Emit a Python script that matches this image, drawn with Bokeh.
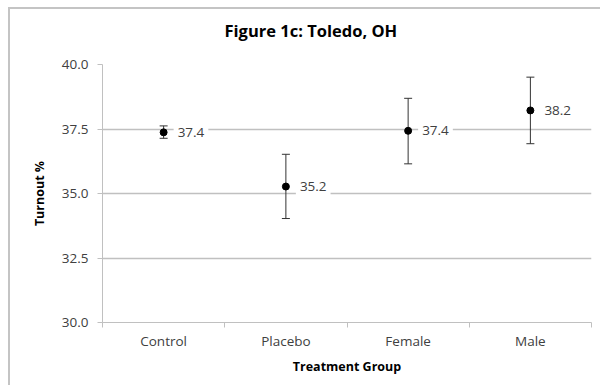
from bokeh.plotting import figure
from bokeh.models import (ColumnDataSource, FixedTicker, Whisker, TeeHead, Title)
from bokeh.core.properties import value
from bokeh.embed import file_html
from bokeh.resources import INLINE

groups = ["Control", "Placebo", "Female", "Male"]
turnout = [37.37, 35.27, 37.43, 38.22]
lower = [37.14, 34.03, 36.15, 36.93]
upper = [37.62, 36.52, 38.69, 39.51]
value_labels = ["37.4", "35.2", "37.4", "38.2"]
y_ticks = [30.0, 32.5, 35.0, 37.5, 40.0]
title_text = "Figure 1c: Toledo, OH"

FONT = "Open Sans"
TXT = "#404040"
GRID = "#c0c0c0"

xpos = [i + 0.5 for i in range(len(groups))]
src = ColumnDataSource(dict(x=xpos, y=turnout, lo=lower, hi=upper, lab=value_labels))

p = figure(width=592, height=378, x_range=(0, len(groups)), y_range=(30, 40),
           output_backend="svg", toolbar_location=None, tools="")
p.styles = {"margin-left": "8px", "margin-top": "7px",
            "border-left": "2px solid #c4c4c4", "border-top": "2px solid #c4c4c4"}
p.min_border_left = 92
p.min_border_right = 11
p.min_border_top = 54
p.min_border_bottom = 65
p.outline_line_color = None
p.background_fill_color = "white"
p.border_fill_color = "white"

# spacer between frame and title, then the title itself
spacer = Title(text=" ", text_font_size="1px", standoff=13)
p.add_layout(spacer, "above")
main_title = Title(text=title_text, align="left", offset=122,
                   text_font=FONT, text_font_size="16.5px", text_font_style="bold",
                   text_color="#000000", standoff=14)
p.add_layout(main_title, "above")

# x axis
xa = p.xaxis[0]
xa.ticker = FixedTicker(ticks=xpos, minor_ticks=list(range(len(groups) + 1)))
xa.major_label_overrides = {x: g for x, g in zip(xpos, groups)}
xa.major_tick_line_color = None
xa.major_tick_out = 0
xa.major_tick_in = 0
xa.minor_tick_out = 5
xa.minor_tick_in = 0
xa.minor_tick_line_color = GRID
xa.axis_line_color = GRID
xa.major_label_text_font = FONT
xa.major_label_text_font_size = "13.5px"
xa.major_label_text_color = TXT
xa.major_label_standoff = 4
xa.axis_label = "Treatment Group"
xa.axis_label_text_font = FONT
xa.axis_label_text_font_size = "12.5px"
xa.axis_label_text_font_style = "bold"
xa.axis_label_text_color = "#000000"
xa.axis_label_standoff = 5

# y axis
ya = p.yaxis[0]
ya.ticker = FixedTicker(ticks=y_ticks)
ya.major_label_overrides = {v: f"{v:.1f}" for v in y_ticks}
ya.major_tick_out = 5
ya.major_tick_in = 0
ya.major_tick_line_color = GRID
ya.minor_tick_line_color = None
ya.axis_line_color = GRID
ya.major_label_text_font = FONT
ya.major_label_text_font_size = "13.5px"
ya.major_label_text_color = TXT
ya.major_label_standoff = 9
ya.axis_label = "Turnout %"
ya.axis_label_text_font = FONT
ya.axis_label_text_font_size = "12.5px"
ya.axis_label_text_font_style = "bold"
ya.axis_label_text_color = "#000000"
ya.axis_label_standoff = 11

p.xgrid.grid_line_color = None
p.ygrid.ticker = FixedTicker(ticks=y_ticks)
p.ygrid.grid_line_color = GRID
p.ygrid.grid_line_width = 1.5

w = Whisker(source=src, base="x", lower="lo", upper="hi", dimension="height",
            line_color="#333333", line_width=1,
            upper_head=TeeHead(size=8, line_color="#333333", line_width=1),
            lower_head=TeeHead(size=8, line_color="#333333", line_width=1))
p.add_layout(w)

p.scatter("x", "y", source=src, size=7, color="black", marker="circle")

p.text("x", "y", text="lab", source=src, x_offset=10, y_offset=0,
       text_baseline="middle", text_align="left",
       text_font=value(FONT), text_font_size="13.5px", text_color=TXT,
       background_fill_color="white", padding=4)

open("out.html", "w").write(file_html(p, INLINE))
